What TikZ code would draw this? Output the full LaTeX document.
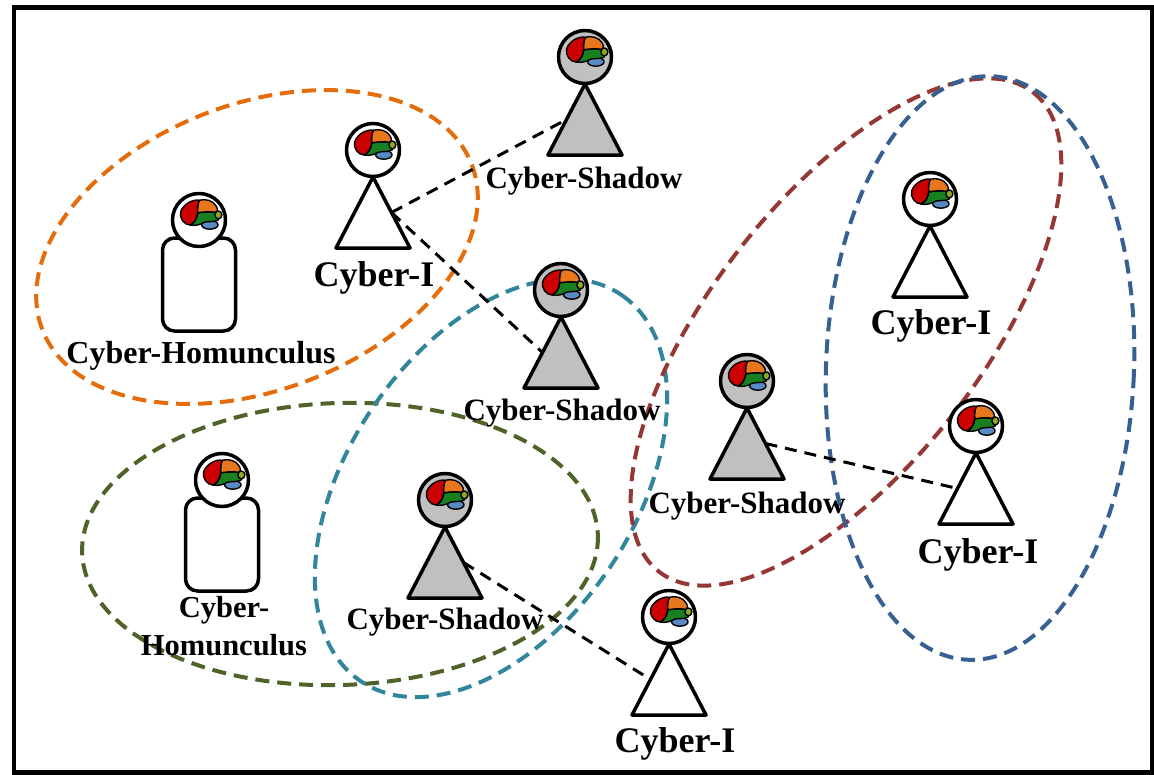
\documentclass[tikz,border=0pt]{standalone}
\usepackage{fontspec}
\setmainfont{Liberation Serif}

\definecolor{brainred}{RGB}{204,0,0}
\definecolor{brainorange}{RGB}{232,118,28}
\definecolor{braingreen}{RGB}{24,128,32}
\definecolor{brainblue}{RGB}{88,138,196}
\definecolor{brainolive}{RGB}{140,170,30}
\definecolor{shadowgray}{RGB}{192,192,192}
\definecolor{ringorange}{RGB}{228,108,10}
\definecolor{ringolive}{RGB}{79,98,40}
\definecolor{ringteal}{RGB}{49,133,156}
\definecolor{ringbrown}{RGB}{149,55,53}
\definecolor{ringblue}{RGB}{55,96,146}

% small coloured brain drawn inside every head
\newcommand\brainicon{%
  \begin{scope}[shift={(2,-6)}, scale=1.1, line width=1.4, line join=round]
    \filldraw[fill=brainblue] (8,9.8) ellipse[x radius=7.5, y radius=4];
    \filldraw[fill=braingreen] (-3,-1) .. controls (2,-2) and (8,-2.5) .. (13,-1.5)
      .. controls (16.5,-0.5) and (17.5,3.5) .. (15.5,5.5)
      .. controls (12,7.5) and (6,6.5) .. (3,7.5)
      .. controls (0,9.5) and (-5,11) .. (-10,10)
      .. controls (-6,8) and (-4,5) .. (-3,-1) -- cycle;
    \filldraw[fill=brainolive] (15.8,0.8) ellipse[x radius=3.2, y radius=3.6];
    \filldraw[fill=brainorange] (-1.5,-12.5) .. controls (4,-14) and (11,-12.5) .. (14,-7)
      .. controls (15.5,-4) and (15,-1.5) .. (13,-1.5)
      .. controls (8,-2.5) and (2,-2) .. (-3,-1)
      .. controls (-3.5,-5) and (-3,-9) .. (-1.5,-12.5) -- cycle;
    \filldraw[fill=brainred] (-1.5,-12.5) .. controls (-8,-13.5) and (-16,-9) .. (-18.5,-2)
      .. controls (-20,4) and (-15,10) .. (-10,10)
      .. controls (-6,8) and (-4,5) .. (-3,-1)
      .. controls (-3.5,-5) and (-3,-9) .. (-1.5,-12.5) -- cycle;
  \end{scope}}

\tikzset{
  figline/.style={line width=3.5, line join=round},
  pics/person/.style={code={
    \draw[figline, fill=#1] (-37,98) -- (0,27) -- (37,98) -- cycle;
    \coordinate (-l) at (-18.5,62.5);
    \coordinate (-r) at (18.5,62.5);
    \draw[figline, fill=#1] (0,0) circle[radius=26.5];
    \brainicon
  }},
  pics/homunc/.style={code={
    \draw[figline, rounded corners=12, fill=white] (-36.5,18) rectangle (36.5,111);
    \draw[figline, fill=white] (0,0) circle[radius=26.5];
    \brainicon
  }},
  grouping/.style={line width=4, dash pattern=on 14 off 8, draw=#1},
  conn/.style={line width=3, dash pattern=on 12 off 8},
  lblI/.style={font=\bfseries\fontsize{36}{40}\selectfont, anchor=base, inner sep=0},
  lblS/.style={font=\bfseries\fontsize{31}{36}\selectfont, anchor=base, inner sep=0},
  lblH/.style={font=\bfseries\fontsize{32}{38}\selectfont, anchor=base, inner sep=0},
}

\begin{document}
\begin{tikzpicture}[x=1pt, y=-1pt]
  \useasboundingbox (0,0) rectangle (1154,774);
  \fill[white] (0,0) rectangle (1154,774);
  \draw[line width=4.5] (14,7.5) rectangle (1152.5,772.5);

  % dashed groupings
  \draw[grouping=ringorange, rotate around={21:(257,247)}] (257,247) ellipse[x radius=230, y radius=143];
  \draw[grouping=ringolive, rotate around={2:(340,544)}] (340,544) ellipse[x radius=258, y radius=141];
  \draw[grouping=ringteal, rotate around={56:(491,488)}] (491,488) ellipse[x radius=233, y radius=143];
  \draw[grouping=ringbrown, rotate around={52:(846,332)}] (846,332) ellipse[x radius=304, y radius=135];
  \draw[grouping=ringblue, rotate around={-2.3:(980,368)}] (980,368) ellipse[x radius=154, y radius=292];

  % figures
  \pic (ciA) at (373,150) {person=white};
  \pic (csA) at (585,57) {person=shadowgray};
  \pic (chA) at (199,220) {homunc};
  \pic (csB) at (561,290) {person=shadowgray};
  \pic (ciB) at (930,199) {person=white};
  \pic (csC) at (747,381) {person=shadowgray};
  \pic (ciC) at (976,426) {person=white};
  \pic (chB) at (222,480) {homunc};
  \pic (csD) at (445,500) {person=shadowgray};
  \pic (ciD) at (669,617) {person=white};

  % links between a Cyber-I and its shadows
  \draw[conn] (ciA-r) -- (csA-l);
  \draw[conn] (ciA-r) -- (csB-l);
  \draw[conn] (csC-r) -- (ciC-l);
  \draw[conn] (csD-r) -- (ciD-l);

  % labels
  \node[lblI] (tciA) at (374,286) {Cyber-I};
  \node[lblS] (tcsA) at (584,188) {Cyber-Shadow};
  \node[lblH] (tchA) at (201,363) {Cyber-Homunculus};
  \node[lblS] (tcsB) at (562,420) {Cyber-Shadow};
  \node[lblI] (tciB) at (931,334) {Cyber-I};
  \node[lblS] (tcsC) at (747,513) {Cyber-Shadow};
  \node[lblI] (tciC) at (978,563) {Cyber-I};
  \node[font=\bfseries\fontsize{30.5}{38}\selectfont, inner sep=0, anchor=north, align=center] (tchB) at (224,596) {Cyber-\\Homunculus};
  \node[lblS] (tcsD) at (445,629) {Cyber-Shadow};
  \node[lblI] (tciD) at (675,752) {Cyber-I};
\end{tikzpicture}
\end{document}
